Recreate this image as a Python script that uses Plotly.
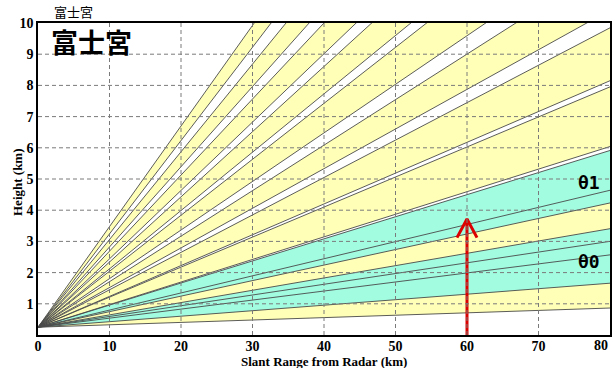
import math
import plotly.graph_objects as go

# ---------------- data ----------------
radar_height_km = 0.25
max_range_km = 80
# beam boundary elevation angles (degrees), low -> high
beam_lower_deg = [0.44, 1.01, 1.97, 2.85, 4.14, 5.64, 7.24, 8.85, 10.59, 12.36, 14.42, 16.65]
beam_upper_deg = [1.66, 2.26, 3.14, 4.05, 5.50, 6.84, 8.30, 10.17, 11.80, 13.70, 15.70, 17.87]
beam_labels = ["", "θ0", "", "θ1", "", "", "", "", "", "", "", ""]
x_ticks = [0, 10, 20, 30, 40, 50, 60, 70, 80]
y_ticks = [1, 2, 3, 4, 5, 6, 7, 8, 9, 10]
site_name = "富士宮"
arrow_range_km = 60
arrow_top_km = 3.72
label_pos = {"θ0": (77.0, 2.35), "θ1": (77.0, 4.88)}

# ---------------- styles ----------------
YELLOW = "#FFFFB8"
CYAN = "#A2FCE0"
EDGE = "#4a4a4a"
GRID = "#7a7a7a"


def h_at(r, deg):
    return radar_height_km + r * math.tan(math.radians(deg))


fig = go.Figure()

# fills: normal beams first, highlighted beams on top
order = [i for i, l in enumerate(beam_labels) if not l] + [i for i, l in enumerate(beam_labels) if l]
for i in order:
    lo, hi = beam_lower_deg[i], beam_upper_deg[i]
    fig.add_trace(go.Scatter(
        x=[0, max_range_km, max_range_km, 0],
        y=[radar_height_km, h_at(max_range_km, lo), h_at(max_range_km, hi), radar_height_km],
        mode="lines", fill="toself", fillcolor=CYAN if beam_labels[i] else YELLOW,
        line=dict(width=0), hoverinfo="skip", showlegend=False))

# beam edges
lx, ly = [], []
for deg in beam_lower_deg + beam_upper_deg:
    lx += [0, max_range_km, None]
    ly += [radar_height_km, h_at(max_range_km, deg), None]
fig.add_trace(go.Scatter(x=lx, y=ly, mode="lines", line=dict(color=EDGE, width=0.9),
                         hoverinfo="skip", showlegend=False))

# red arrow
head_dx = 1.4
head_dy = 0.6
fig.add_trace(go.Scatter(x=[arrow_range_km, arrow_range_km], y=[0, arrow_top_km], mode="lines",
                         line=dict(color="#DD0000", width=3), hoverinfo="skip", showlegend=False))
fig.add_trace(go.Scatter(x=[arrow_range_km - head_dx, arrow_range_km, arrow_range_km + head_dx],
                         y=[arrow_top_km - head_dy, arrow_top_km, arrow_top_km - head_dy], mode="lines",
                         line=dict(color="#DD0000", width=3), hoverinfo="skip", showlegend=False))

# dashed grid drawn above the fills
shapes = []
for xv in x_ticks[1:-1]:
    shapes.append(dict(type="line", xref="x", yref="y", x0=xv, x1=xv, y0=0, y1=10, layer="above",
                       line=dict(color=GRID, width=1, dash="4px,3px")))
for yv in y_ticks[:-1]:
    shapes.append(dict(type="line", xref="x", yref="y", x0=0, x1=80, y0=yv, y1=yv, layer="above",
                       line=dict(color=GRID, width=1, dash="4px,3px")))

tickfont = dict(family="Liberation Serif", size=14, color="black", weight="bold")

annotations = []
for name, (px, py) in label_pos.items():
    annotations.append(dict(x=px, y=py, xref="x", yref="y", text=name, showarrow=False,
                            font=dict(family="DejaVu Sans Mono", size=18, color="black", weight="bold")))
annotations.append(dict(x=0.019, y=0.94, xref="paper", yref="paper", text=site_name, showarrow=False,
                        xanchor="left", yanchor="middle",
                        font=dict(family="Noto Sans CJK JP", size=27, color="black", weight="bold")))
annotations.append(dict(x=(73.5 - 38) / 574, y=1.0, xref="paper", yref="paper", yanchor="bottom", yshift=0,
                        xanchor="center", text=site_name, showarrow=False,
                        font=dict(family="Noto Sans CJK JP", size=13, color="black")))
annotations.append(dict(x=0.5, y=0, xref="paper", yref="paper", yanchor="top", yshift=-17,
                        text="Slant Range from Radar (km)", showarrow=False,
                        font=dict(family="Liberation Serif", size=13, color="black", weight="bold")))
annotations.append(dict(x=0, y=0.5, xref="paper", yref="paper", xanchor="center", xshift=-21, yshift=-3,
                        text="Height (km)", textangle=-90, showarrow=False,
                        font=dict(family="Liberation Serif", size=13, color="black", weight="bold")))
# last x tick label, kept inside the page at the right edge
annotations.append(dict(x=x_ticks[-1], y=0, xref="x", yref="y", yanchor="top", yshift=-1,
                        xanchor="right", text=str(x_ticks[-1]), showarrow=False, font=tickfont))

fig.update_layout(
    width=612, height=368,
    margin=dict(l=38, r=0, t=23, b=33),
    paper_bgcolor="white", plot_bgcolor="white",
    showlegend=False,
    shapes=shapes, annotations=annotations,
    xaxis=dict(range=[0, 80], tickvals=x_ticks[:-1], showgrid=False, zeroline=False,
               showline=True, linecolor="black", linewidth=1.5, mirror=True, ticks="",
               tickfont=tickfont, fixedrange=True, ticklabelstandoff=-3),
    yaxis=dict(range=[0, 10], tickvals=y_ticks, showgrid=False, zeroline=False,
               showline=True, linecolor="black", linewidth=1.5, mirror=True, ticks="",
               tickfont=tickfont, fixedrange=True),
)

fig.write_html("out.html", config={"displayModeBar": False},
               post_script="document.body.style.margin='0';document.body.style.overflow='hidden';")
